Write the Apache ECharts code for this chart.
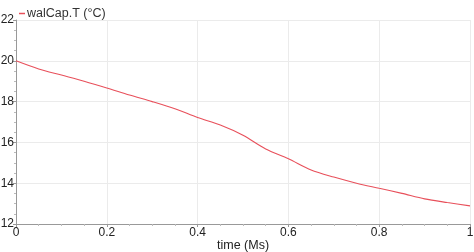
<!DOCTYPE html>
<html><head><meta charset="utf-8">
<script src="https://cdn.jsdelivr.net/npm/echarts@6/dist/echarts.min.js"></script>
<style>html,body{margin:0;padding:0;background:#fff}#c{width:474px;height:252px}</style>
</head><body><div id="c"></div>
<script>
const seriesName = 'walCap.T (°C)';
const xLabel = 'time (Ms)';
const timeMs = [0,0.05,0.1,0.15,0.2,0.25,0.3,0.35,0.4,0.45,0.5,0.55,0.6,0.65,0.7,0.75,0.8,0.85,0.9,0.95,1.0];
const tempC = [20.0,19.6,19.3,19.0,18.67,18.32,18.0,17.65,17.22,16.85,16.35,15.68,15.2,14.65,14.3,14.0,13.75,13.5,13.23,13.05,12.89];

const chart = echarts.init(document.getElementById('c'));
const font = 'Liberation Sans';
chart.setOption({
  animation: false,
  textStyle: {fontFamily: font},
  grid: {left: 16, right: 4, top: 20, bottom: 28, containLabel: false, outerBoundsMode: 'none'},
  legend: {
    left: 14, top: 2, itemWidth: 6, itemHeight: 1.5, itemGap: 4,
    icon: 'rect',
    textStyle: {fontFamily: font, fontSize: 12.5, color: '#333', padding: [0,0,0,-3]},
    data: [seriesName]
  },
  xAxis: {
    type: 'value', min: 0, max: 1, interval: 0.2,
    name: xLabel, nameLocation: 'middle', nameGap: 15.5, nameMoveOverlap: false,
    nameTextStyle: {fontFamily: font, fontSize: 12.5, color: '#222'},
    axisLine: {show: true, lineStyle: {color: '#999'}},
    axisTick: {show: true, length: 3, lineStyle: {color: '#999'}},
    minorTick: {show: true, splitNumber: 4, length: 2, lineStyle: {color: '#bbb'}},
    splitLine: {show: true, lineStyle: {color: '#ebebeb'}},
    axisLabel: {fontFamily: font, fontSize: 12, color: '#222', margin: 3,
      formatter: v => String(+v.toFixed(1))}
  },
  yAxis: {
    type: 'value', min: 12, max: 22, interval: 2,
    axisLine: {show: true, lineStyle: {color: '#999'}},
    axisTick: {show: true, length: 3, lineStyle: {color: '#999'}},
    minorTick: {show: true, splitNumber: 4, length: 2, lineStyle: {color: '#bbb'}},
    splitLine: {show: true, lineStyle: {color: '#ebebeb'}},
    axisLabel: {fontFamily: font, fontSize: 12, color: '#222', margin: 2}
  },
  series: [{
    name: seriesName, type: 'line', showSymbol: false, smooth: 0.3,
    lineStyle: {color: '#e8505b', width: 1.1},
    itemStyle: {color: '#e8505b'},
    data: timeMs.map((t, i) => [t, tempC[i]])
  }]
});
</script></body></html>
